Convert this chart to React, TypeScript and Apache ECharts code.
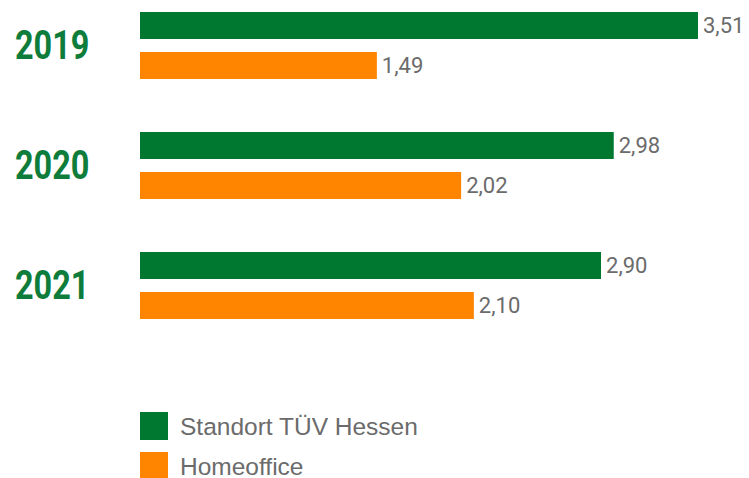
import React, { useEffect, useRef } from "react";
import * as echarts from "echarts";

const years = ["2019", "2020", "2021"];
const standortValues = [3.51, 2.98, 2.9];
const homeofficeValues = [1.49, 2.02, 2.1];
const seriesNames = ["Standort TÜV Hessen", "Homeoffice"];

const GREEN = "#00782F";
const ORANGE = "#FF8400";
const GRAY = "#6b6b6b";
const OFFSET = 20;

export default function App() {
  const ref = useRef<HTMLDivElement>(null);
  useEffect(() => {
    if (!ref.current) return;
    const chart = echarts.init(ref.current, null, { renderer: "svg" });
    const label = {
      show: true,
      position: "right",
      distance: 5,
      color: GRAY,
      fontSize: 22,
      fontFamily: "Roboto, sans-serif",
      formatter: (p: any) => Number(p.value).toFixed(2).replace(".", ","),
    };
    chart.setOption({
      animation: false,
      grid: { left: 140, right: 51, top: 45.5 - 60 + OFFSET, bottom: 520 - (45.5 + 300 + OFFSET) },
      xAxis: { type: "value", min: 0, max: 3.51, show: false },
      yAxis: {
        type: "category",
        data: years,
        inverse: true,
        axisLine: { show: false },
        axisTick: { show: false },
        splitLine: { show: false },
        axisLabel: { show: false },
      },
      legend: {
        orient: "vertical",
        left: 135,
        top: 407 + OFFSET,
        itemWidth: 28,
        itemHeight: 28,
        itemGap: 12,
        icon: "rect",
        data: seriesNames,
        textStyle: {
          color: GRAY,
          fontSize: 24.5,
          fontFamily: "'Liberation Sans', Arial, sans-serif",
          padding: [0, 0, 0, 7],
        },
      },
      series: [
        {
          name: seriesNames[0],
          type: "bar",
          data: standortValues,
          barWidth: 27,
          barGap: "48%",
          itemStyle: { color: GREEN },
          label,
        },
        {
          name: seriesNames[1],
          type: "bar",
          data: homeofficeValues,
          barWidth: 27,
          barGap: "48%",
          itemStyle: { color: ORANGE },
          label,
        },
      ],
    });
    const yearTexts = years.map((y) => {
      const py = chart.convertToPixel({ yAxisIndex: 0 }, y) as number;
      return {
        type: "text",
        x: 15,
        y: py,
        scaleX: 0.81,
        style: {
          text: y,
          fill: "#0E7C3A",
          font: "bold 40px Roboto, sans-serif",
          textAlign: "left",
          textVerticalAlign: "middle",
        },
      };
    });
    chart.setOption({ graphic: yearTexts });
    return () => chart.dispose();
  }, []);
  return (
    <div style={{ width: 749, height: 478, position: "absolute", left: 0, top: 0, overflow: "hidden" }}>
      <div
        ref={ref}
        style={{ width: 749, height: 520, position: "absolute", left: 0, top: -OFFSET }}
      />
    </div>
  );
}
